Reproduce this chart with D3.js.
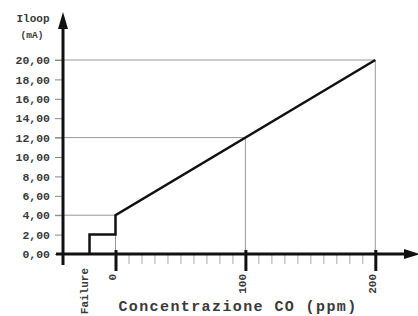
<!DOCTYPE html>
<html>
<head>
<meta charset="utf-8">
<script src="https://cdn.jsdelivr.net/npm/d3@7"></script>
<style>
  body { margin: 0; background: #fff; }
  svg { display: block; }
  text { font-family: "Liberation Mono", "DejaVu Sans Mono", monospace; font-weight: bold; fill: #3a3a3a; }
</style>
</head>
<body>
<div id="chart"></div>
<script>
// data
const yTicks = [0, 2, 4, 6, 8, 10, 12, 14, 16, 18, 20];
const xTicks = [0, 100, 200];
const xMinor = [10, 20, 30, 40, 50, 60, 70, 80, 90, 110, 120, 130, 140, 150, 160, 170, 180, 190];
const failureAt = -20;
const curveX = [-20, -20, 0, 0, 200];
const curveY = [0, 2, 2, 4, 20];
const guideX = [0, 100, 200];
const guideY = [4, 12, 20];

const W = 418, H = 316;
const svg = d3.select('#chart').append('svg').attr('width', W).attr('height', H);

const x = d3.scaleLinear().domain([0, 200]).range([115.5, 375.3]);
const y = d3.scaleLinear().domain([0, 20]).range([254, 60]);
const x0 = 63; // y axis position

// gray guide lines
guideX.forEach((gx, i) => {
    svg.append('line').attr('x1', 55).attr('x2', x(gx)).attr('y1', y(guideY[i])).attr('y2', y(guideY[i]))
        .attr('stroke', '#999').attr('stroke-width', 1);
    svg.append('line').attr('x1', x(gx)).attr('x2', x(gx)).attr('y1', y(guideY[i])).attr('y2', y(0))
        .attr('stroke', '#999').attr('stroke-width', 1);
});

// y axis ticks + labels
const yAxis = svg.append('g').attr('transform', `translate(${x0},0)`)
    .call(d3.axisLeft(y).tickValues(yTicks).tickSize(8).tickPadding(5)
        .tickFormat(d => d.toFixed(2).replace('.', ',')));
yAxis.select('.domain').remove();
yAxis.selectAll('line').attr('stroke', '#888');
yAxis.selectAll('text').style('font-size', '11.5px').attr('fill', '#3a3a3a');

// x minor ticks
const xMin = svg.append('g').attr('transform', `translate(0,${y(0)})`)
    .call(d3.axisBottom(x).tickValues(xMinor).tickSize(10).tickFormat(''));
xMin.select('.domain').remove();
xMin.selectAll('line').attr('stroke', '#aaa').attr('stroke-width', 1);

// x major ticks + labels (Failure at -20)
const xAxis = svg.append('g').attr('transform', `translate(0,${y(0)})`)
    .call(d3.axisBottom(x).tickValues([failureAt].concat(xTicks)).tickSize(17)
        .tickFormat(d => d === failureAt ? 'Failure' : d));
xAxis.select('.domain').remove();
xAxis.selectAll('line').attr('stroke', '#111').attr('stroke-width', 3)
    .attr('y1', -4).attr('opacity', d => d === failureAt ? 0 : 1);
xAxis.selectAll('text')
    .attr('transform', 'rotate(-90)')
    .attr('x', d => d === failureAt ? -14 : -20)
    .attr('y', d => d === failureAt ? -6 : -4)
    .attr('dy', '0.35em')
    .style('text-anchor', 'end')
    .style('font-size', '11px')
    .attr('fill', '#3a3a3a');

// main axes with arrows
svg.append('line').attr('x1', x0).attr('x2', x0).attr('y1', 265).attr('y2', 26)
    .attr('stroke', '#111').attr('stroke-width', 3);
svg.append('path').attr('d', `M${x0},12 L${x0 + 5},29 L${x0 - 5},29 Z`).attr('fill', '#111');
svg.append('line').attr('x1', 56).attr('x2', 406).attr('y1', y(0)).attr('y2', y(0))
    .attr('stroke', '#111').attr('stroke-width', 3);
svg.append('path').attr('d', `M420,${y(0)} L404,${y(0) - 5} L404,${y(0) + 5} Z`).attr('fill', '#111');

// step + linear response
const pts = curveX.map((d, i) => [d, curveY[i]]);
svg.append('path').datum(pts)
    .attr('d', d3.line().x(d => x(d[0])).y(d => y(d[1])))
    .attr('fill', 'none').attr('stroke', '#111').attr('stroke-width', 2.5)
    .attr('stroke-linejoin', 'miter');

// axis titles
svg.append('text').attr('x', 33).attr('y', 22).attr('text-anchor', 'middle')
    .style('font-size', '11px').text('Iloop');
svg.append('text').attr('x', 32).attr('y', 38).attr('text-anchor', 'middle')
    .style('font-size', '9.5px').text('(mA)');
svg.append('text').attr('x', 238).attr('y', 311).attr('text-anchor', 'middle')
    .style('font-size', '15px').style('letter-spacing', '1.4px').text('Concentrazione CO (ppm)');
</script>
</body>
</html>
